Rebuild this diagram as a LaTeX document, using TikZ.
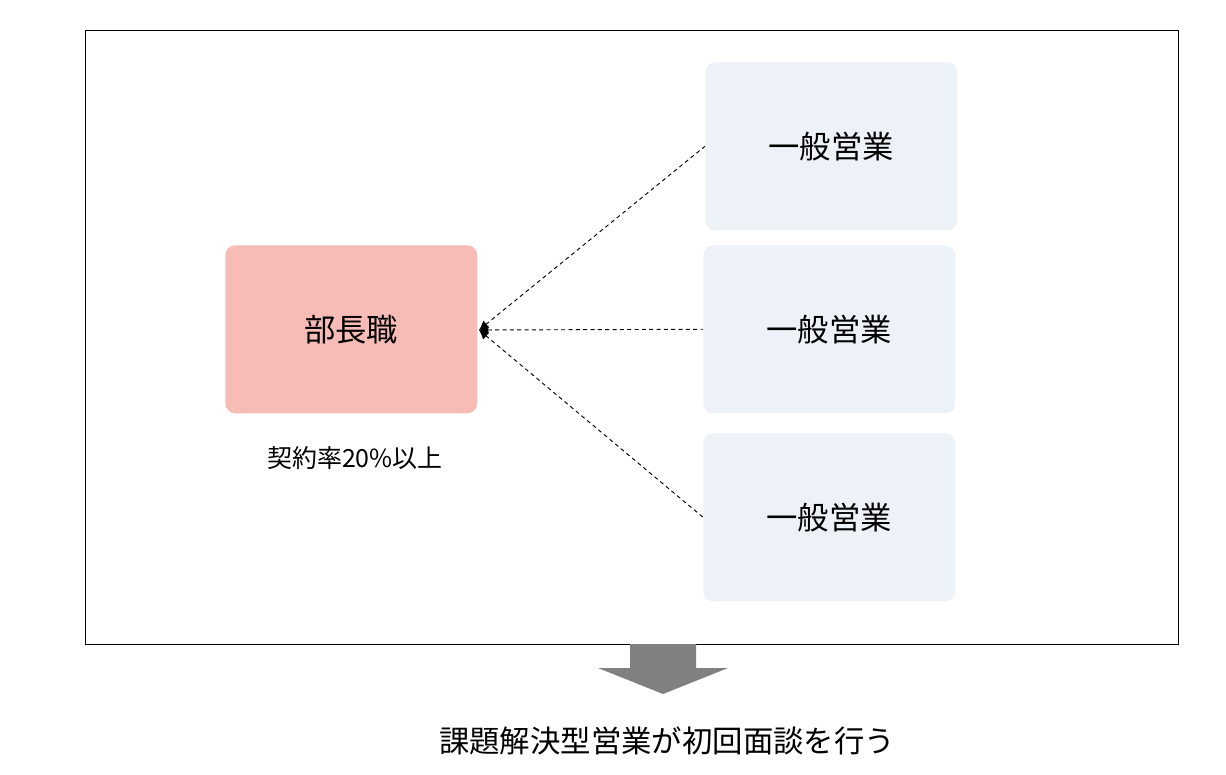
\documentclass[tikz,border=0pt]{standalone}
\usepackage{fontspec}
\setmainfont{Noto Sans CJK JP}
\usetikzlibrary{arrows.meta}
\definecolor{pinkbox}{RGB}{247,188,182}
\definecolor{bluebox}{RGB}{237,241,248}
\definecolor{arrowgray}{RGB}{128,128,128}
\tikzset{
  boxbase/.style={draw=none, rounded corners=7.5pt, minimum width=189pt, minimum height=126pt, inner sep=0pt, anchor=north west},
  pinkstyle/.style={boxbase, fill=pinkbox, font=\fontsize{23.5}{27}\selectfont},
  bluestyle/.style={boxbase, fill=bluebox, font=\fontsize{23.5}{27}\selectfont},
  link/.style={line width=0.7pt, dash pattern=on 3pt off 2.5pt, {Latex[length=7pt,width=7pt]}-},
}
\begin{document}
\begin{tikzpicture}[x=0.75pt,y=-0.75pt]
\useasboundingbox (0,0) rectangle (1226,774);
\draw[line width=0.6pt] (85,30) rectangle (1178,644);
\node[pinkstyle] (boss) at (225,245) {部長職};
\node[bluestyle] (s1) at (705,62) {一般営業};
\node[bluestyle] (s2) at (703,245) {一般営業};
\node[bluestyle] (s3) at (703,433) {一般営業};
\coordinate (hub) at (479,330);
\draw[link] (hub) -- (s1.west);
\draw[link] (hub) -- (s2.west);
\draw[link] (hub) -- (s3.west);
\node[font=\fontsize{18.7}{22}\selectfont] (rate) at (355,458) {契約率20\%以上};
\fill[arrowgray] (630,644) -- (696,644) -- (696,668) -- (728,668) -- (663,694) -- (598,668) -- (630,668) -- cycle;
\node[font=\fontsize{22.8}{27}\selectfont] (result) at (667,741) {課題解決型営業が初回面談を行う};
\end{tikzpicture}
\end{document}
